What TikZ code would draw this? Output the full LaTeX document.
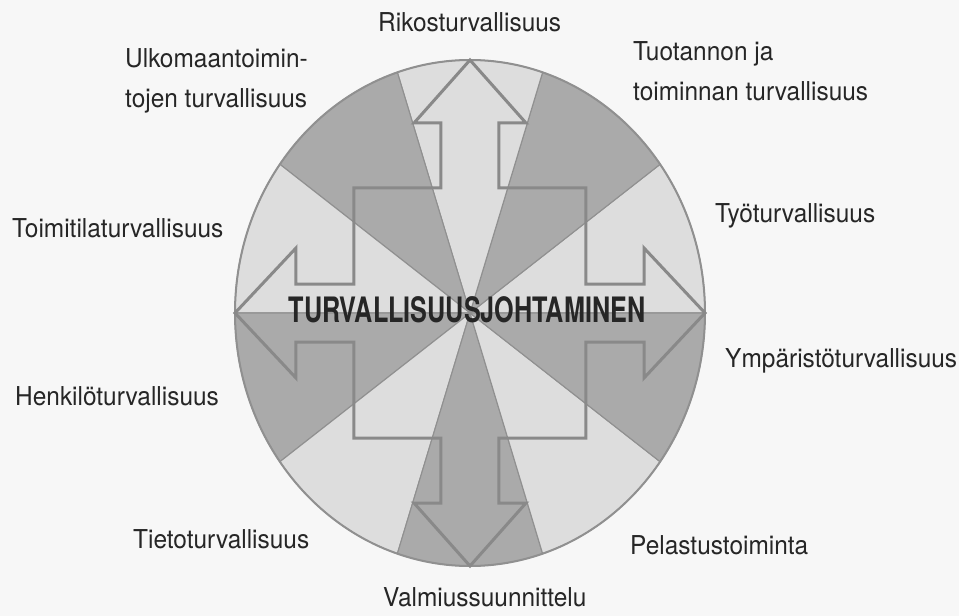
\documentclass[tikz,border=0pt]{standalone}
\usepackage{fontspec}
\setmainfont{TeX Gyre Heros}
\newfontfamily\labelfont[FakeStretch=0.94]{TeX Gyre Heros}
\newfontfamily\hubfont[FakeStretch=0.72]{TeX Gyre Heros}
\definecolor{paper}{HTML}{F7F7F7}
\definecolor{lightsec}{HTML}{DDDDDD}
\definecolor{darksec}{HTML}{AAAAAA}
\definecolor{rimgray}{HTML}{909090}
\definecolor{inkgray}{HTML}{262626}
\tikzset{
  sector/.style     = {draw=rimgray, line width=1.1pt, line join=round},
  rim/.style        = {draw=rimgray, line width=2pt},
  crossarrow/.style = {draw=rimgray!95!black, line width=3pt, line join=miter},
  lbl/.style        = {font=\labelfont\fontsize{26}{40}\selectfont, text=inkgray,
                       inner sep=0pt, align=left},
  hub/.style        = {font=\hubfont\bfseries\fontsize{35}{35}\selectfont,
                       text=black!85, inner sep=0pt},
}
\begin{document}
\begin{tikzpicture}[x=1pt,y=1pt]
  \fill[paper] (-470,-303) rectangle (489,313);
  \useasboundingbox (-470,-303) rectangle (489,313);
  % ten sectors of 36 degrees
  \foreach \a/\c in {0/lightsec,36/darksec,72/lightsec,108/darksec,144/lightsec,
                     180/darksec,216/lightsec,252/darksec,288/lightsec,324/darksec}
    \filldraw[sector,fill=\c] (0,0) -- (\a:235pt and 253pt)
      arc[start angle=\a, end angle=\a+36, x radius=235pt, y radius=253pt] -- cycle;
  \draw[rim] (0,0) ellipse [x radius=235pt, y radius=253pt];
  % four-way arrow, outline only
  \draw[crossarrow] (0,253) -- (56,190) -- (29,190) -- (29,125) -- (116,125)
    -- (116,29) -- (174,29) -- (174,65) -- (235,0) -- (174,-65) -- (174,-29)
    -- (116,-29) -- (116,-125) -- (29,-125) -- (29,-190) -- (56,-190)
    -- (0,-253) -- (-56,-190) -- (-29,-190) -- (-29,-125) -- (-116,-125)
    -- (-116,-29) -- (-174,-29) -- (-174,-65) -- (-235,0) -- (-174,65)
    -- (-174,29) -- (-116,29) -- (-116,125) -- (-29,125) -- (-29,190)
    -- (-56,190) -- cycle;
  \node[hub] (hub) at (-3,3) {TURVALLISUUSJOHTAMINEN};
  % labels round the rim
  \node[lbl,anchor=base west] (crime) at (-92,281) {Rikosturvallisuus};
  \node[lbl,anchor=west] (abroad) at (-345,232) {Ulkomaantoimin-\\tojen turvallisuus};
  \node[lbl,anchor=west] (production) at (163,242) {Tuotannon ja\\toiminnan turvallisuus};
  \node[lbl,anchor=base west] (premises) at (-458,75) {Toimitilaturvallisuus};
  \node[lbl,anchor=base west] (work) at (245,90) {Työturvallisuus};
  \node[lbl,anchor=base west] (environment) at (255,-54) {Ympäristöturvallisuus};
  \node[lbl,anchor=base west] (personnel) at (-455,-92) {Henkilöturvallisuus};
  \node[lbl,anchor=base west] (information) at (-337,-235) {Tietoturvallisuus};
  \node[lbl,anchor=base west] (rescue) at (160,-241) {Pelastustoiminta};
  \node[lbl,anchor=base west] (preparedness) at (-87,-293) {Valmiussuunnittelu};
\end{tikzpicture}
\end{document}
